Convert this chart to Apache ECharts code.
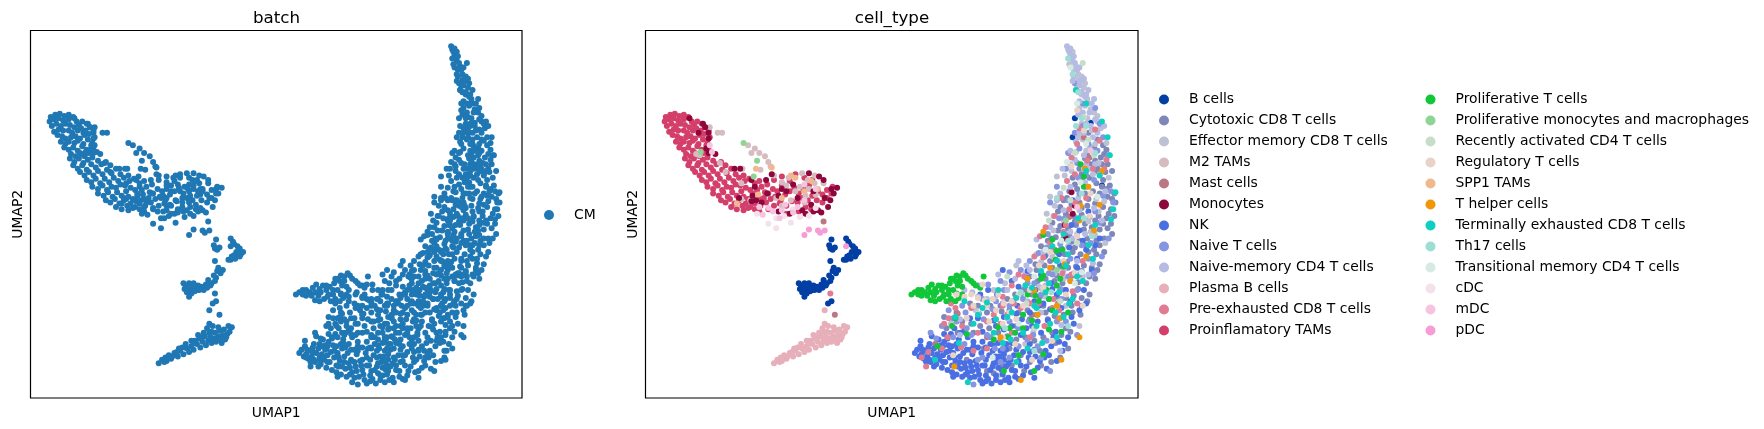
<!DOCTYPE html>
<html><head><meta charset="utf-8">
<script src="https://cdn.jsdelivr.net/npm/echarts@6/dist/echarts.min.js"></script>
<style>html,body{margin:0;padding:0;background:#fff}#c{width:1764px;height:429px}</style></head>
<body><div id="c"></div>
<script>
// Flat x,y pairs in UMAP-axis units
const bCells=[205,212,207,215,208,217,211,219,213,221,216,224,214,226,210,224,208,227,205,231,203,231,206,228,209,230,213,228,212,224,192,213,191,221,193,222,195,220,190,218,191,232,194,238,198,240,196,243,193,241,192,247,190,245,188,252,191,250,185,249,187,254,183,253,179,255,181,258,176,254,173,255,175,258,171,256,169,258,167,255,165,254,164,257,166,260,168,264,170,261,173,259,163,252,168,252,172,252,177,258,192,268,189,270,186,252,184,256,408,105,406,122,422,109,432,165];
const cytotoxic=[420,118,428,124,433,129,436,133,431,140,437,146,441,152,435,153,428,150,422,146,417,141,412,150,406,158,414,160,421,158,427,163,433,160,439,165,443,172,437,175,430,172,424,170,417,172,410,168,403,170,398,178,405,182,412,180,419,183,426,181,433,184,440,186,443,192,436,194,429,192,421,193,414,191,407,192,400,190,393,188,388,198,395,201,402,203,409,200,416,204,423,202,430,204,437,203,441,208,434,212,427,214,419,212,412,214,405,215,398,212,391,211,384,214,378,219,385,222,392,224,399,226,406,224,413,226,420,224,427,226,434,224,430,235,423,238,416,236,409,237,402,238,395,237,388,238,381,236,374,240,368,246,375,250,382,248,390,250,397,252,404,250,411,251,418,252,426,248,421,262,414,265,407,263,400,265,392,264,385,266,377,264,370,262,362,258,355,262,348,266,342,272,350,276,358,278,366,276,374,280,382,278,390,281,398,280,406,278,413,280,404,295,396,298,388,296,380,300,372,303,364,300,356,302,348,299,340,296,332,292,324,290,316,288,308,286,360,316,368,322,378,325,387,322,395,318,402,310,350,310,344,325,336,332,330,330,312,320,330,278,322,272,315,270,303,278,292,282,
425,131,419,136,432,146,426,143,414,155,408,164,436,168,441,177,432,166,420,177,414,185,401,176,395,184,408,197,426,196,440,199,433,199,417,199,393,205,387,212,403,209,430,218,418,218,408,220,396,221,382,227,373,235,386,232,401,233,414,241,428,240,421,246,406,245,392,245,378,256,366,258,399,258,411,257,419,268,405,272,393,270,380,272,368,284,356,290,343,277,333,272,384,284,400,292,391,305,377,312,363,330,352,325,340,318,327,310,318,296,304,296,294,292,414,272,425,222,438,190,444,180,427,152,434,137];
const effectorMem=[402,44,404,49,406,54,409,59,407,62,411,66,413,72,410,76,416,78,414,84,419,88,417,94,422,97,425,100,419,105,428,108,414,110,423,116,431,114,415,124,426,128,418,134,409,135,429,145,404,146,399,156,416,150,424,155,438,158,411,176,427,177,434,179,390,183,398,196,420,197,426,209,410,208,435,216,402,219,388,228,378,233,407,243,415,246,390,243,376,255,400,272,384,291,371,296,412,290,
406,46,403,57,411,71,414,68,417,74,420,92,428,103,412,96,421,130,411,122,405,152,436,127,421,150,392,157,386,175,383,190,429,188,422,206,389,205,364,244,356,236,346,252,398,248,374,226,382,264,336,258,320,276,298,288,364,306,340,334];
const m2Tams=[84,113,91,118,95,118,118,129,124,132,121,136,133,139,136,144,129,151,128,136,138,148,113,150,93,145,75,138,72,137,98,153,112,163,148,162,154,158,148,183,143,176,156,178,166,154,171,160,177,163,185,163,172,168,177,156,164,166,160,170,169,174,178,173,168,180,152,165,120,178,112,177,141,156];
const mastCells=[185,197,195,280,416,122,421,140,403,193,304,279,284,306,370,280,330,300];
const monocytes=[66,105,78,110,80,113,83,118,74,118,83,123,81,132,89,137,83,136,106,150,111,150,121,160,134,160,139,155,124,166,110,176,122,174,121,179,125,178,145,174,145,188,172,154,181,157,185,160,192,168,197,167,194,172,189,184,174,182,169,190,183,189,180,187,166,187,152,170,158,164,162,176,148,168,135,172,130,180,176,170,186,176,191,178,176,188,155,190,405,171,408,183,406,190,399,200,400,212];
const nk=[268,311,271,308,266,314,272,315,275,312,278,309,274,319,277,317,281,314,284,318,280,322,285,324,288,320,291,316,283,310,289,311,294,313,297,318,293,322,290,327,295,329,299,325,302,321,306,317,300,314,304,310,296,307,292,304,287,302,310,323,307,328,303,333,308,335,313,331,316,326,320,321,317,315,312,311,322,329,326,325,329,320,325,314,319,335,324,338,329,334,333,329,336,323,332,316,338,317,342,312,345,320,340,327,344,333,338,338,334,341,342,340,349,336,352,329,349,323,354,316,358,321,355,330,358,337,347,306,340,305,333,306,326,304,318,304,313,300,305,302,298,297,362,313,368,306,373,317,365,326,375,327,381,318,387,308,392,321,397,312,378,296,370,290,384,285,391,295,402,300,407,288,412,276,396,274,380,270,368,278,360,298,352,290,345,282,357,272,373,258,387,252,400,258,416,258,423,240,410,238,395,235,381,228,366,241,358,255,403,220,418,222,430,212,412,205,398,207,420,188,406,178,315,283,322,283,336,285,345,293,310,294,301,292,292,297,279,306,271,303,361,284,376,272,392,262,404,268,418,270,362,334,372,336,350,340,329,339,315,336,306,322,286,315,276,322,300,335,345,315,318,308,335,312,352,305,368,313,382,312,394,304,405,282,386,275,372,268,353,268,339,262,331,258,324,262,352,250,344,240,
270,317,273,311,279,320,283,326,287,317,291,322,297,312,301,318,304,326,299,331,311,327,315,322,321,325,317,330,323,333,328,325,331,337,335,326,339,322,343,329,347,326,351,320,347,311,341,317,336,307,329,309,322,309,315,311,309,314,303,306,295,301,289,307,281,299,356,311,360,325,367,318,372,311,377,321,385,316,389,300,383,328,369,331,355,335,346,338,338,334,326,341,311,333,291,308,299,308,307,296,326,295,338,290,356,279,365,292,375,286,399,306,378,244,388,257,365,247,410,230,415,214,405,200,426,218,394,226];
const naiveT=[408,74,412,82,415,92,426,96,430,110,433,122,408,118,402,136,420,128,438,138,428,134,412,132,400,150,392,166,410,145,425,160,440,170,418,166,402,178,386,180,394,194,410,196,430,198,442,180,422,216,438,212,414,218,395,217,384,208,376,225,368,232,360,240,350,242,342,250,331,253,322,254,345,258,366,252,385,243,404,230,420,230,432,228,425,243,412,244,395,257,378,262,362,266,350,272,335,275,323,279,311,278,300,283,290,290,280,296,300,300,316,298,333,300,350,286,367,286,383,303,400,286,410,298,386,330,375,308,358,308,342,322,326,318,310,306,318,342,
415,112,424,134,411,158,418,156,433,174,426,188,412,172,399,194,383,220,402,246,388,244,372,252,360,262,338,268,327,284,312,292,303,286,285,301,296,276,308,272,326,266,344,270,358,292,371,298,392,286,396,266,410,258,378,318,366,302,350,318,337,310,322,320,330,298,344,310];
const naiveMem=[401,41,403,46,405,51,408,56,410,62,407,68,412,72,416,70,409,80,414,82,420,80,412,90,417,86,423,92,421,100,415,100,418,110,426,106,412,118,424,122,434,112,416,138,408,142,397,150,430,155,418,146,404,166,395,172,425,185,412,187,398,187,386,202,432,196,417,208,404,206,374,213,393,232,410,232,424,234,365,236,355,248,340,244,378,278,396,289,348,283,330,266,317,260,395,312,306,298,
404,43,407,50,412,60,406,72,412,76,418,84,425,88,411,102,422,112,428,118,416,118,409,126,404,134,426,146,392,178,417,162,435,170,406,212,389,192,380,224,368,240,358,232,348,258,366,268,382,254,398,240,420,244,336,266,322,264,310,258,306,284];
const plasmaB=[141,323,144,320,147,318,150,316,152,319,155,314,158,317,160,312,163,315,166,310,165,306,168,313,170,308,172,311,175,306,173,303,178,309,180,304,177,301,183,307,185,303,182,299,187,300,188,305,190,301,186,296,192,304,194,299,191,296,196,302,198,298,195,294,200,302,202,297,199,293,204,295,206,291,203,290,186,288,189,290,194,291,181,296,176,298,170,303,162,309,157,313,148,321,146,322,153,317,159,310,193,302,197,305,201,300,188,295,184,292,186,276,172,305,179,300,198,302];
const preExh=[191,261,426,115,430,125,410,128,405,140,419,143,408,155,401,161,434,150,396,176,390,192,398,206,382,202,377,210,403,186,418,176,386,216,372,228,380,229,397,243,363,246,352,254,415,232,376,270,360,274,406,259,344,264,394,283,381,290,368,300,352,296,330,310,322,296,308,290,302,274,298,270,290,310,272,318,276,326,295,300,316,274,296,283,348,280,342,288,330,286,394,276,410,270,368,270,342,302,292,288,389,266,358,244,400,200,
412,114,436,142,424,150,414,194,408,180,390,222,372,262,354,270,336,280,318,312,307,309,278,313,344,272,388,274,372,292,405,244];
const proinflam=[45,104,49,102,53,101,57,103,61,102,44,108,48,106,52,105,56,107,61,106,65,104,68,108,46,112,50,110,54,112,58,110,62,111,66,113,70,111,73,108,77,110,48,117,52,115,56,116,61,116,64,118,69,116,72,114,76,116,80,113,51,120,55,121,58,123,63,122,67,121,71,123,75,120,79,119,83,116,54,126,58,128,61,126,66,127,69,125,74,128,78,124,82,127,84,122,57,131,61,133,65,131,69,134,73,130,77,133,81,129,63,137,67,139,71,136,75,139,79,136,83,133,62,141,66,144,70,141,74,145,78,142,82,140,87,143,65,147,69,150,73,147,77,151,81,146,85,149,90,146,94,144,98,147,71,153,75,156,79,153,83,156,87,152,91,155,95,151,99,154,103,150,107,155,77,160,81,162,85,159,89,163,93,159,97,162,101,158,105,161,110,158,114,156,82,166,87,168,91,165,95,169,99,166,103,167,107,164,111,165,115,161,119,159,87,172,92,174,96,171,100,175,104,171,108,174,112,170,116,167,120,169,124,163,128,161,94,178,98,180,102,177,106,181,110,178,114,175,118,177,122,172,126,169,130,166,133,171,103,184,108,186,113,183,116,181,120,184,124,181,128,177,132,176,136,172,140,168,144,170,148,165,114,187,118,185,124,186,129,183,134,180,138,177,142,175,147,178,151,173,155,170,159,167,163,172,167,168,172,165,128,188,136,186,141,183,146,181,152,183,157,179,162,180,166,176,171,178,175,174,180,170,184,173,188,169,193,166,152,190,158,187,163,188,169,184,174,186,179,178,184,180,188,176,192,172,168,158,175,160,160,155,155,161,148,157,141,160,135,164];
const proliferativeT=[263,262,266,260,269,262,272,258,275,260,278,256,281,253,284,257,287,254,280,260,283,263,277,263,272,263,269,258,290,258,293,255,297,252,300,248,303,245,306,246,309,243,311,245,313,248,316,250,318,252,306,250,302,250,298,248,304,254,308,255,300,258,296,262,292,262,298,266,302,268,305,265,308,262,294,268,303,261,280,267,284,268,288,266,291,264,324,256,327,246,320,254,296,258,290,254,285,260,302,283,299,290,312,297,286,308,380,209,392,223,397,222,388,213,391,231,398,237,413,146,416,157,416,166,385,266,373,263,392,254,380,245,370,285,362,292,358,316,349,300,378,248,366,262,340,291,372,330,385,293,
383,258,376,268,395,248,362,280,350,292,336,302,388,276,402,278,355,296,380,315,396,295,345,330];
const prolifMono=[114,127,126,143,123,157,76,135,400,196,392,240];
const recentAct=[415,56,416,104,420,124,404,178,398,167,385,196,410,216,395,268,380,258,365,270,348,246,372,292,408,136,425,138];
const regulatory=[303,262,310,264,316,262,322,265,328,267,335,266,340,262,345,270,350,278,338,276,330,272,318,272,312,283,332,286,322,279,344,288,356,284,362,272,372,272,368,258,380,256,392,272,400,262,376,236,386,224,398,232,410,210,421,192,405,148,416,116,410,98,422,172,300,316,355,306,388,303,370,320,344,300,415,272,358,262,408,243,352,268,326,253];
const spp1=[125,150,139,149,127,173,108,181,148,176,160,158,168,170,174,161,180,168,156,156];
const tHelper=[417,150,420,166,430,182,425,205,412,196,380,206,399,235,366,248,372,258,404,250,375,280,392,272,342,300,301,326,395,283,386,238,413,183,432,152,418,228,396,320,412,300,360,338];
const terminalExh=[409,80,418,92,432,108,437,122,439,138,430,156,418,152,444,171,440,195,442,186,426,200,411,194,398,208,402,226,388,219,392,232,378,241,364,254,356,265,372,272,391,278,382,260,406,266,415,250,424,230,340,258,330,269,322,280,318,288,310,268,302,282,336,296,351,302,348,282,366,310,356,322,379,305,392,300,403,270,398,282,386,288,305,305,284,320,313,340,344,305,374,290,
385,252,394,260,370,256,352,278,338,284,326,274,362,296,374,274,410,246,400,236,420,218];
const th17=[402,52,406,66,411,82,414,105,409,112,418,112,426,136,414,172,392,176,416,194,402,214,423,210,387,260,360,260,346,292,402,290,372,312];
const transitional=[404,60,410,92,418,128,401,144,413,162,428,175,396,214,382,222,408,252,372,246,358,288,414,242,335,318];
const cDC=[126,190,136,199,143,203,143,194,150,192,158,186,164,193,156,198,172,192,178,185];
const mDC=[84,129,86,135,128,184,140,188,136,185,148,187,151,182,158,189,146,194,168,178,162,184,168,164,178,168,131,191,422,134,410,184];
const pDC=[172,204,168,209,180,205,182,207,186,205,205,219];

const typeNames=['B cells','Cytotoxic CD8 T cells','Effector memory CD8 T cells','M2 TAMs','Mast cells','Monocytes','NK','Naive T cells','Naive-memory CD4 T cells','Plasma B cells','Pre-exhausted CD8 T cells','Proinflamatory TAMs','Proliferative T cells','Proliferative monocytes and macrophages','Recently activated CD4 T cells','Regulatory T cells','SPP1 TAMs','T helper cells','Terminally exhausted CD8 T cells','Th17 cells','Transitional memory CD4 T cells','cDC','mDC','pDC'];
const typeValues=[bCells,cytotoxic,effectorMem,m2Tams,mastCells,monocytes,nk,naiveT,naiveMem,plasmaB,preExh,proinflam,proliferativeT,prolifMono,recentAct,regulatory,spp1,tHelper,terminalExh,th17,transitional,cDC,mDC,pDC];
const typeColors=['#023fa5','#7d87b9','#bec1d4','#d6bcc0','#bb7784','#8e063b','#4a6fe3','#8595e1','#b5bbe3','#e6afb9','#e07b91','#d33f6a','#11c638','#8dd593','#c6dec7','#ead3c6','#f0b98d','#ef9708','#0fcfc0','#9cded6','#d5eae3','#f3e1eb','#f6c4e1','#f79cd4'];

function pairs(f){const o=[];for(let i=0;i+1<f.length;i+=2)o.push([f[i],f[i+1]]);return o;}
const FONT='"DejaVu Sans"', DOT=6;
const nameStyle={fontFamily:FONT,fontSize:13.9,color:'#000'};
const axX=(g,n)=>({type:'value',gridIndex:g,min:27,max:464,name:n,nameLocation:'middle',nameGap:8,nameTextStyle:nameStyle,axisLine:{show:false},axisTick:{show:false},axisLabel:{show:false},splitLine:{show:false}});
const axY=(g,n)=>({type:'value',gridIndex:g,min:27,max:354,inverse:true,name:n,nameLocation:'middle',nameGap:5,nameTextStyle:nameStyle,axisLine:{show:false},axisTick:{show:false},axisLabel:{show:false},splitLine:{show:false}});
const series=[{type:'scatter',name:'CM',xAxisIndex:0,yAxisIndex:0,symbolSize:DOT,silent:true,itemStyle:{color:'#1f77b4',opacity:1},data:typeValues.flatMap(pairs)}];
typeNames.forEach((n,i)=>series.push({type:'scatter',name:n,xAxisIndex:1,yAxisIndex:1,symbolSize:DOT,silent:true,z:n==='Proinflamatory TAMs'?1:2,itemStyle:{color:typeColors[i],opacity:1},data:pairs(typeValues[i])}));
const legendBase={orient:'vertical',itemWidth:10,itemHeight:10,icon:'circle',itemGap:7,padding:0,textStyle:{fontFamily:FONT,fontSize:13.9,color:'#000',padding:[0,0,0,15]},selectedMode:false};
const chart=echarts.init(document.getElementById('c'),null,{renderer:'canvas'});
chart.setOption({animation:false,backgroundColor:'#fff',
 title:[{text:'batch',left:271.5,top:5,textAlign:'center',textStyle:{fontFamily:FONT,fontSize:16.7,fontWeight:'normal',color:'#000'}},
        {text:'cell_type',left:887,top:5,textAlign:'center',textStyle:{fontFamily:FONT,fontSize:16.7,fontWeight:'normal',color:'#000'}}],
 grid:[{left:30.5,top:30.5,width:491.5,height:367.5,show:true,borderColor:'#000',borderWidth:1.2,backgroundColor:'#fff'},
       {left:645.5,top:30.5,width:492.5,height:367.5,show:true,borderColor:'#000',borderWidth:1.2,backgroundColor:'#fff'}],
 xAxis:[axX(0,'UMAP1'),axX(1,'UMAP1')],yAxis:[axY(0,'UMAP2'),axY(1,'UMAP2')],
 legend:[Object.assign({},legendBase,{left:544,top:208,data:['CM']}),
         Object.assign({},legendBase,{left:1159,top:92.5,data:typeNames.slice(0,12)}),
         Object.assign({},legendBase,{left:1425.5,top:92.5,data:typeNames.slice(12)})],
 series});
</script></body></html>
